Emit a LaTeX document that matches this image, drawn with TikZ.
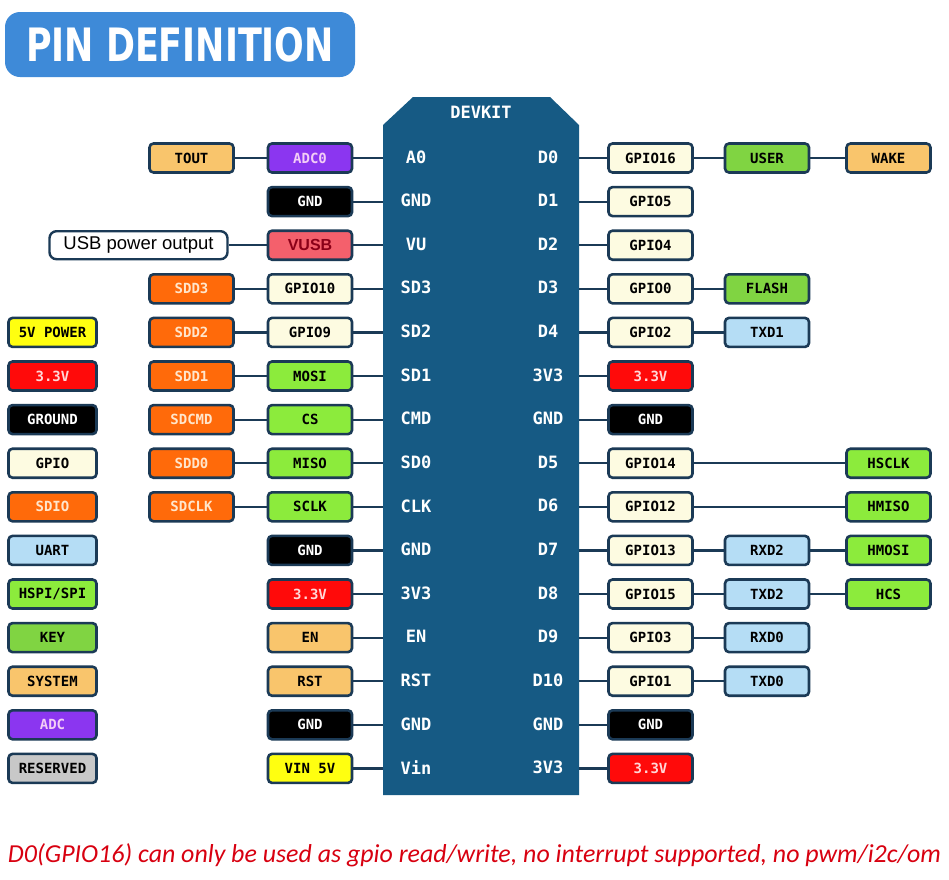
\documentclass[tikz,border=0pt]{standalone}
\usepackage{fontspec}
\newfontfamily\monofam{DejaVu Sans Mono}
\newfontfamily\titlefam{DejaVu Sans}
\newfontfamily\calibfam{Carlito}
\newfontfamily\arialfam{Liberation Sans}
\definecolor{bordc}{HTML}{1B3A56}
\definecolor{boardc}{HTML}{165A84}
\definecolor{titlec}{HTML}{3E8AD8}
\definecolor{cgpio}{HTML}{FDFBE1}
\definecolor{csdio}{HTML}{FF6A0A}
\definecolor{csdiot}{HTML}{FFE6CC}
\definecolor{cuart}{HTML}{B5DDF5}
\definecolor{chspi}{HTML}{8CEB3C}
\definecolor{ckey}{HTML}{80D442}
\definecolor{csys}{HTML}{F9C56C}
\definecolor{cadc}{HTML}{8B36F0}
\definecolor{cadct}{HTML}{F3CDF6}
\definecolor{cred}{HTML}{FF0A0A}
\definecolor{credt}{HTML}{FFD8D8}
\definecolor{cyel}{HTML}{FFFF10}
\definecolor{cres}{HTML}{C8C8C8}
\definecolor{cvusb}{HTML}{F4606C}
\definecolor{cvusbt}{HTML}{8B0018}
\definecolor{cnote}{HTML}{D80010}
\begin{document}
\begin{tikzpicture}[x=1pt,y=-1pt,
  pinbox/.style={draw=bordc, line width=2.6pt, rounded corners=4pt,
    minimum width=84pt, minimum height=29pt, inner sep=0pt,
    font=\monofam\bfseries\fontsize{14}{16}\selectfont},
  legbox/.style={pinbox, minimum width=88pt},
  gpiobox/.style={fill=cgpio, text=black},
  sdiobox/.style={fill=csdio, text=csdiot},
  uartbox/.style={fill=cuart, text=black},
  hspibox/.style={fill=chspi, text=black},
  keybox/.style={fill=ckey, text=black},
  sysbox/.style={fill=csys, text=black},
  adcbox/.style={fill=cadc, text=cadct},
  gndbox/.style={fill=black, text=white},
  vdbox/.style={fill=cred, text=credt},
  fivebox/.style={fill=cyel, text=black},
  resbox/.style={fill=cres, text=black},
  vusbbox/.style={fill=cvusb, text=cvusbt},
  conn/.style={draw=bordc, line width=2.2pt},
  boardlbl/.style={text=white, inner sep=0pt,
    font=\monofam\bfseries\fontsize{17}{19}\selectfont}
]
\useasboundingbox (0,0) rectangle (949,879);
\fill[white] (0,0) rectangle (949,879);

% title
\node[fill=titlec, rounded corners=15pt, minimum width=350pt, minimum height=65pt, inner sep=0pt,
  text=white, font=\titlefam\bfseries\fontsize{46}{50}\selectfont] (title) at (180,44.5)
  {\scalebox{0.76}[1]{PIN DEFINITION}};

% board
\fill[boardc] (383,125) -- (413,97) -- (550,97) -- (579,125) -- (579,795) -- (383,795) -- cycle;
\node[boardlbl] (devkit) at (481,112) {DEVKIT};

\foreach \i/\y in {1/158,2/201.6,3/245.2,4/288.8,5/332.4,6/376,7/419.6,8/463.2,
  9/506.8,10/550.4,11/594,12/637.6,13/681.2,14/724.8,15/768.4}{
  \coordinate (bl\i) at (383,\y);
  \coordinate (br\i) at (579,\y);
}

% board pin labels
\foreach \i/\y/\a/\b in {1/158/A0/D0,2/201.6/GND/D1,3/245.2/VU/D2,4/288.8/SD3/D3,
  5/332.4/SD2/D4,6/376/SD1/3V3,7/419.6/CMD/GND,8/463.2/SD0/D5,9/506.8/CLK/D6,
  10/550.4/GND/D7,11/594/3V3/D8,12/637.6/EN/D9,13/681.2/RST/D10,14/724.8/GND/GND,
  15/768.4/Vin/3V3}{
  \node[boardlbl] (pl\i) at (416,\y-1) {\a};
  \node[boardlbl] (pr\i) at (548,\y-1) {\b};
}

% left inner column
\node[pinbox,adcbox]  (L1)  at (310,158)   {ADC0};
\node[pinbox,gndbox]  (L2)  at (310,201.6) {GND};
\node[pinbox,vusbbox,font=\arialfam\bfseries\fontsize{16}{18}\selectfont] (L3) at (310,245.2) {VUSB};
\node[pinbox,gpiobox] (L4)  at (310,288.8) {GPIO10};
\node[pinbox,gpiobox] (L5)  at (310,332.4) {GPIO9};
\node[pinbox,hspibox] (L6)  at (310,376)   {MOSI};
\node[pinbox,hspibox] (L7)  at (310,419.6) {CS};
\node[pinbox,hspibox] (L8)  at (310,463.2) {MISO};
\node[pinbox,hspibox] (L9)  at (310,506.8) {SCLK};
\node[pinbox,gndbox]  (L10) at (310,550.4) {GND};
\node[pinbox,vdbox]   (L11) at (310,594)   {3.3V};
\node[pinbox,sysbox]  (L12) at (310,637.6) {EN};
\node[pinbox,sysbox]  (L13) at (310,681.2) {RST};
\node[pinbox,gndbox]  (L14) at (310,724.8) {GND};
\node[pinbox,fivebox] (L15) at (310,768.4) {VIN 5V};

% left outer column
\node[pinbox,sysbox]  (O1) at (191.5,158)   {TOUT};
\node[draw=bordc, line width=2.4pt, rounded corners=7pt, fill=white, minimum width=178pt,
  minimum height=28pt, inner sep=0pt, font=\arialfam\fontsize{18.5}{20}\selectfont]
  (U3) at (138.5,245.2) {USB power output};
\node[pinbox,sdiobox] (O4) at (191.5,288.8) {SDD3};
\node[pinbox,sdiobox] (O5) at (191.5,332.4) {SDD2};
\node[pinbox,sdiobox] (O6) at (191.5,376)   {SDD1};
\node[pinbox,sdiobox] (O7) at (191.5,419.6) {SDCMD};
\node[pinbox,sdiobox] (O8) at (191.5,463.2) {SDD0};
\node[pinbox,sdiobox] (O9) at (191.5,506.8) {SDCLK};

% right inner column
\node[pinbox,gpiobox] (R1)  at (650.5,158)   {GPIO16};
\node[pinbox,gpiobox] (R2)  at (650.5,201.6) {GPIO5};
\node[pinbox,gpiobox] (R3)  at (650.5,245.2) {GPIO4};
\node[pinbox,gpiobox] (R4)  at (650.5,288.8) {GPIO0};
\node[pinbox,gpiobox] (R5)  at (650.5,332.4) {GPIO2};
\node[pinbox,vdbox]   (R6)  at (650.5,376)   {3.3V};
\node[pinbox,gndbox]  (R7)  at (650.5,419.6) {GND};
\node[pinbox,gpiobox] (R8)  at (650.5,463.2) {GPIO14};
\node[pinbox,gpiobox] (R9)  at (650.5,506.8) {GPIO12};
\node[pinbox,gpiobox] (R10) at (650.5,550.4) {GPIO13};
\node[pinbox,gpiobox] (R11) at (650.5,594)   {GPIO15};
\node[pinbox,gpiobox] (R12) at (650.5,637.6) {GPIO3};
\node[pinbox,gpiobox] (R13) at (650.5,681.2) {GPIO1};
\node[pinbox,gndbox]  (R14) at (650.5,724.8) {GND};
\node[pinbox,vdbox]   (R15) at (650.5,768.4) {3.3V};

% right second column
\node[pinbox,keybox]  (S1)  at (767,158)   {USER};
\node[pinbox,keybox]  (S4)  at (767,288.8) {FLASH};
\node[pinbox,uartbox] (S5)  at (767,332.4) {TXD1};
\node[pinbox,uartbox] (S10) at (767,550.4) {RXD2};
\node[pinbox,uartbox] (S11) at (767,594)   {TXD2};
\node[pinbox,uartbox] (S12) at (767,637.6) {RXD0};
\node[pinbox,uartbox] (S13) at (767,681.2) {TXD0};

% right third column
\node[pinbox,sysbox]  (T1)  at (888.5,158)   {WAKE};
\node[pinbox,hspibox] (T8)  at (888.5,463.2) {HSCLK};
\node[pinbox,hspibox] (T9)  at (888.5,506.8) {HMISO};
\node[pinbox,hspibox] (T10) at (888.5,550.4) {HMOSI};
\node[pinbox,hspibox] (T11) at (888.5,594)   {HCS};

% legend
\node[legbox,fivebox] (G5)  at (52.5,332.4) {5V POWER};
\node[legbox,vdbox]   (G6)  at (52.5,376)   {3.3V};
\node[legbox,gndbox]  (G7)  at (52.5,419.6) {GROUND};
\node[legbox,gpiobox] (G8)  at (52.5,463.2) {GPIO};
\node[legbox,sdiobox] (G9)  at (52.5,506.8) {SDIO};
\node[legbox,uartbox] (G10) at (52.5,550.4) {UART};
\node[legbox,hspibox] (G11) at (52.5,594)   {HSPI/SPI};
\node[legbox,keybox]  (G12) at (52.5,637.6) {KEY};
\node[legbox,sysbox]  (G13) at (52.5,681.2) {SYSTEM};
\node[legbox,adcbox]  (G14) at (52.5,724.8) {ADC};
\node[legbox,resbox]  (G15) at (52.5,768.4) {RESERVED};

% connectors
\foreach \i in {1,...,15}{
  \draw[conn] (L\i.east) -- (bl\i);
  \draw[conn] (br\i) -- (R\i.west);
}
\foreach \i in {1,4,5,6,7,8,9}{ \draw[conn] (O\i.east) -- (L\i.west); }
\draw[conn] (U3.east) -- (L3.west);
\foreach \i in {1,4,5,10,11,12,13}{ \draw[conn] (R\i.east) -- (S\i.west); }
\foreach \i in {1,10,11}{ \draw[conn] (S\i.east) -- (T\i.west); }
\foreach \i in {8,9}{ \draw[conn] (R\i.east) -- (T\i.west); }

% note
\node[text=cnote, inner sep=0pt, font=\calibfam\itshape\fontsize{21}{24}\selectfont] (note) at (474.5,855)
  {\resizebox{933pt}{!}{D0(GPIO16) can only be used as gpio read/write, no interrupt supported, no pwm/i2c/om}};
\end{tikzpicture}
\end{document}
